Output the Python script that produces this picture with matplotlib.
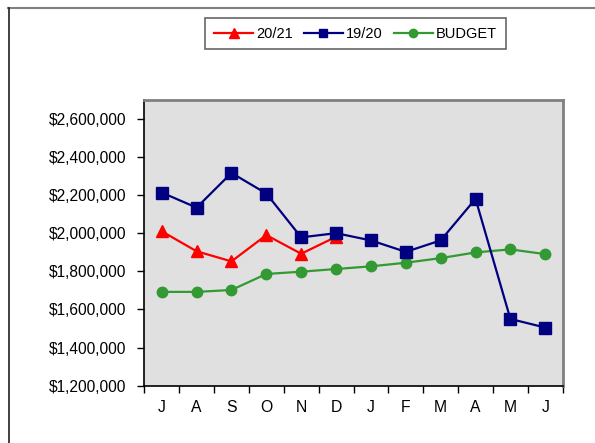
import matplotlib
matplotlib.use("Agg")
import matplotlib.pyplot as plt
from matplotlib.lines import Line2D
from matplotlib.ticker import FuncFormatter, FixedLocator

plt.rcParams['font.family'] = ['Liberation Sans', 'DejaVu Sans']

months = ["J", "A", "S", "O", "N", "D", "J", "F", "M", "A", "M", "J"]
s2021 = [2010000, 1905000, 1852000, 1990000, 1892000, 1981000]
s1920 = [2213000, 2134000, 2316000, 2208000, 1978000, 2000000,
         1962000, 1902000, 1962000, 2180000, 1550000, 1505000]
budget = [1692000, 1692000, 1702000, 1786000, 1798000, 1812000,
          1826000, 1845000, 1869000, 1899000, 1915000, 1890000]

W, H = 595, 443
fig = plt.figure(figsize=(W / 100, H / 100), dpi=100)

# outer frame
fig.add_artist(Line2D([8 / W, 1.0], [1 - 8.3 / H, 1 - 8.3 / H], color="#808080", lw=1.5,
                      transform=fig.transFigure))
fig.add_artist(Line2D([8.7 / W, 8.7 / W], [0, 1 - 8 / H], color="#202020", lw=1.2,
                      transform=fig.transFigure))

left, right, top, bottom = 144.3, 562.7, 99.7, 385.7
ax = fig.add_axes([left / W, 1 - bottom / H, (right - left) / W, (bottom - top) / H])
ax.set_facecolor("#E0E0E0")

x = list(range(len(months)))
x21 = x[:len(s2021)]

l2, = ax.plot(x, s1920, color="#000080", lw=1.6, marker="s", markersize=8,
              markerfacecolor="#000080", markeredgecolor="#000080", label="19/20", zorder=3)
l1, = ax.plot(x21, s2021, color="#FF0000", lw=1.6, marker="^", markersize=9,
              markerfacecolor="#FF0000", markeredgecolor="#FF0000", label="20/21", zorder=2)
l3, = ax.plot(x, budget, color="#339933", lw=1.6, marker="o", markersize=7.5,
              markerfacecolor="#339933", markeredgecolor="#339933", label="BUDGET", zorder=2)

ax.set_xlim(-0.5, len(months) - 0.5)
ax.set_ylim(1200000, 2700000)
ax.yaxis.set_major_locator(FixedLocator(list(range(1200000, 2700001, 200000))))
ax.yaxis.set_major_formatter(FuncFormatter(lambda v, p: "${:,.0f}".format(v)))
ax.set_xticks(x)
ax.set_xticklabels(months)
ax.set_xticks([i - 0.5 for i in range(len(months) + 1)], minor=True)
ax.tick_params(axis="x", which="major", length=0, pad=10, labelsize=11.3)
ax.tick_params(axis="x", which="minor", length=5, width=1, direction="out", color="black")
ax.tick_params(axis="y", which="major", length=5, width=1, direction="out", labelsize=11.2, pad=8)

for s in ["top", "right"]:
    ax.spines[s].set_color("#808080")
    ax.spines[s].set_linewidth(2)
for s in ["left", "bottom"]:
    ax.spines[s].set_color("black")
    ax.spines[s].set_linewidth(1.2)

leg = fig.legend(handles=[l1, l2, l3], labels=["20/21", "19/20", "BUDGET"],
                 loc="center", bbox_to_anchor=(355.5 / W, 1 - 33.7 / H), ncol=3,
                 fontsize=10.5, frameon=True, fancybox=False, handlelength=2.7,
                 handletextpad=0.2, columnspacing=0.75, borderpad=0.6,
                 markerscale=0.8)
leg.get_frame().set_edgecolor("#404040")
leg.get_frame().set_linewidth(1.2)

fig.savefig("out.png", dpi=100)
